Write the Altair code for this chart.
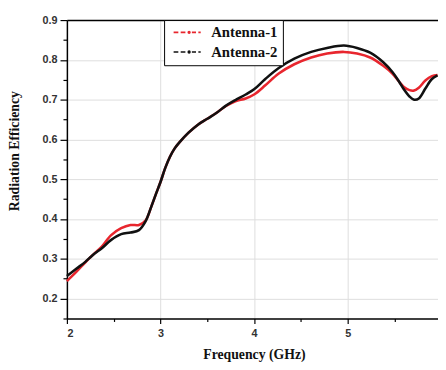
import altair as alt
import pandas as pd

# Frequencies (GHz)
freq = [2.00, 2.10, 2.20, 2.26, 2.30, 2.37, 2.47, 2.58, 2.68, 2.77, 2.84, 2.90, 2.95,
        3.00, 3.05, 3.10, 3.15, 3.20, 3.30, 3.40, 3.50, 3.60, 3.70, 3.80, 3.91, 4.00,
        4.12, 4.26, 4.43, 4.61, 4.78, 4.96, 5.10, 5.24, 5.38, 5.48, 5.55, 5.60, 5.66,
        5.71, 5.76, 5.83, 5.90, 5.96]

antenna1 = [0.244, 0.267, 0.292, 0.306, 0.315, 0.330, 0.359, 0.377, 0.385, 0.385, 0.396,
            0.430, 0.462, 0.493, 0.528, 0.556, 0.577, 0.592, 0.617, 0.637, 0.652, 0.667,
            0.684, 0.696, 0.703, 0.713, 0.736, 0.765, 0.789, 0.806, 0.816, 0.820, 0.816,
            0.806, 0.785, 0.765, 0.745, 0.732, 0.724, 0.723, 0.730, 0.748, 0.759, 0.762]

antenna2 = [0.257, 0.275, 0.293, 0.306, 0.314, 0.326, 0.347, 0.362, 0.366, 0.372, 0.394,
            0.430, 0.462, 0.493, 0.528, 0.556, 0.577, 0.592, 0.617, 0.637, 0.652, 0.667,
            0.685, 0.699, 0.713, 0.726, 0.752, 0.779, 0.803, 0.820, 0.830, 0.836, 0.830,
            0.818, 0.794, 0.769, 0.745, 0.726, 0.708, 0.700, 0.703, 0.728, 0.752, 0.761]

series_names = ["Antenna-1", "Antenna-2"]
series_colors = ["#e8262e", "#111111"]

x_ticks = [2, 2.5, 3, 3.5, 4, 4.5, 5, 5.5]
y_ticks = [0.15, 0.2, 0.25, 0.3, 0.35, 0.4, 0.45, 0.5, 0.55, 0.6, 0.65, 0.7, 0.75, 0.8, 0.85, 0.9]

rows = []
for name, vals in zip(series_names, [antenna1, antenna2]):
    for f, v in zip(freq, vals):
        rows.append({"f": f, "eff": v, "series": name})
df = pd.DataFrame(rows)

xscale = alt.Scale(domain=[2, 5.965], nice=False, zero=False)
yscale = alt.Scale(domain=[0.15, 0.9], nice=False, zero=False)

minor_x = "datum.value % 1 != 0"
minor_y = "abs(datum.value*10 - round(datum.value*10)) > 0.01"

x_axis = alt.Axis(
    values=x_ticks,
    labelExpr="datum.value % 1 == 0 ? format(datum.value, 'd') : ''",
    title="Frequency (GHz)",
    titleFont="Liberation Serif", titleFontWeight="bold", titleFontSize=14,
    titleColor="#111", titleX=190.5, titleY=41, titleBaseline="alphabetic",
    labelFont="Liberation Sans", labelFontWeight="bold", labelFontSize=11,
    labelColor="#333", labelPadding=4,
    domainColor="black", domainWidth=1.5,
    tickColor="black", tickWidth=1.2,
    tickSize={"condition": {"test": minor_x, "value": 3}, "value": 5},
    grid=True, gridColor="#dddddd", gridWidth=1,
    gridOpacity={"condition": {"test": minor_x, "value": 0}, "value": 1},
)

y_axis = alt.Axis(
    values=y_ticks,
    labelExpr="abs(datum.value*10 - round(datum.value*10)) > 0.01 ? '' : format(datum.value, '.1f')",
    title="Radiation Efficiency",
    titleFont="Liberation Serif", titleFontWeight="bold", titleFontSize=14,
    titleColor="#111", titleX=-53, titleY=133, titleBaseline="middle", titleAngle=270,
    labelFont="Liberation Sans", labelFontWeight="bold", labelFontSize=11,
    labelColor="#333", labelPadding=3,
    domainColor="black", domainWidth=1.5,
    tickColor="black", tickWidth=1.2,
    tickSize={"condition": {"test": minor_y, "value": 4}, "value": 7},
    grid=True, gridColor="#dddddd", gridWidth=1,
    gridOpacity={"condition": {"test": minor_y, "value": 0}, "value": 1},
)

sym_path = ("M-2.3,0H-1.5M-1.1,0H-0.3M0.8,0H1.5M1.9,0H2.3"
            "M0.48,0A0.15,0.15,0,1,1,0.18,0A0.15,0.15,0,1,1,0.48,0")

legend = alt.Legend(
    orient="none", legendX=99, legendY=0,
    padding=5, strokeColor="black", fillColor="white",
    symbolType=sym_path, symbolSize=144, symbolStrokeWidth=1.6,
    symbolOffset=11, labelOffset=17,
    labelFont="Liberation Serif", labelFontWeight="bold", labelFontSize=15,
    labelColor="#111", rowPadding=4,
)

lines = alt.Chart(df).mark_line(strokeWidth=2.6, interpolate="catmull-rom").encode(
    x=alt.X("f:Q", scale=xscale, axis=x_axis),
    y=alt.Y("eff:Q", scale=yscale, axis=y_axis),
    color=alt.Color("series:N", title=None,
                    scale=alt.Scale(domain=series_names, range=series_colors),
                    legend=legend),
)

top_frame = alt.Chart(df).mark_rule(opacity=0).encode(
    x=alt.X("f:Q", scale=xscale,
            axis=alt.Axis(orient="top", labels=False, ticks=False, grid=False,
                          title=None, domainColor="black", domainWidth=1.5)),
)

chart = alt.layer(lines, top_frame).resolve_axis(x="independent").properties(
    width=378, height=304,
    padding={"left": 60, "top": 9, "right": 0, "bottom": 41},
    autosize=alt.AutoSizeParams(type="none"),
).configure_view(stroke="transparent")

chart.save("out.html", embed_options={"renderer": "svg", "actions": False})
